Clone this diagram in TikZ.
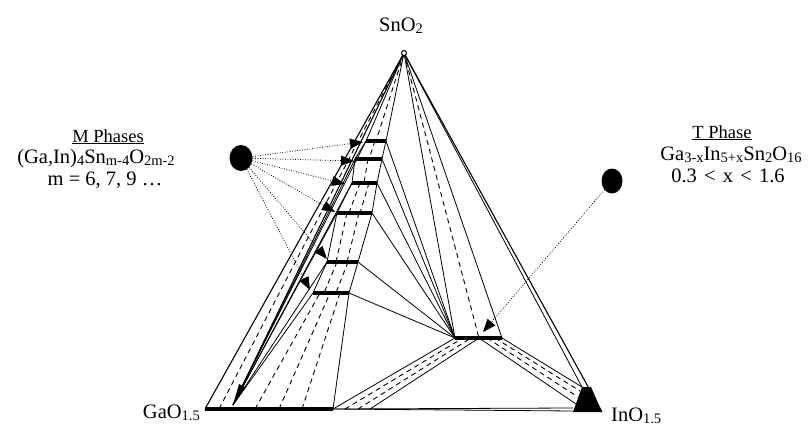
\documentclass[tikz,border=0pt]{standalone}
\usepackage{fontspec}
\setmainfont{Liberation Serif}
\usetikzlibrary{arrows.meta,shapes.geometric}
\newcommand{\sbx}[1]{\raisebox{-0.3ex}{\fontsize{14.5}{14.5}\selectfont #1}}
\begin{document}
\begin{tikzpicture}[x=1pt,y=-1pt,
  edge/.style={line width=1.1pt},
  thinl/.style={line width=0.8pt},
  tie/.style={line width=0.9pt, dash pattern=on 5pt off 4pt},
  barl/.style={line width=4.5pt},
  dotl/.style={line width=0.8pt, dash pattern=on 0.8pt off 1.7pt},
  arr/.style={dotl, -{Triangle[length=13pt,width=10pt]}},
  blob/.style={ellipse, fill=black, inner sep=0pt},
  lbl/.style={font=\fontsize{20.5}{22}\selectfont, inner sep=0pt},
  head/.style={font=\fontsize{18.5}{20}\selectfont, inner sep=0pt}
]
\useasboundingbox (0,0) rectangle (812,426);
% corners and key points
\coordinate (A) at (404,53);
\coordinate (G) at (205,409);
\coordinate (F) at (233,405);
\coordinate (B) at (333,409);
\coordinate (B2) at (370,409);
\coordinate (Gd) at (219,409);
\coordinate (L1) at (366,141); \coordinate (R1) at (386,141);
\coordinate (L2) at (355,159); \coordinate (R2) at (382,159);
\coordinate (L3) at (352,183); \coordinate (R3) at (377,183);
\coordinate (L4) at (337,213); \coordinate (R4) at (372,213);
\coordinate (L5) at (327,262); \coordinate (R5) at (358,262);
\coordinate (L6) at (313,293); \coordinate (R6) at (349,293);
\coordinate (TL) at (455,338); \coordinate (TM) at (479,338); \coordinate (TR) at (502,338);
\coordinate (Itl) at (582,387); \coordinate (Itr) at (591,387);
\coordinate (Ibl) at (573,412); \coordinate (Ibr) at (602,412);
\coordinate (Im) at (576,404);

% outer edges
\draw[edge] (A) -- (G);
\draw[edge] (A) -- (Ibr);
\draw[thinl] (A) -- (Itl);
\draw[thinl] (B) -- (573,408);
\draw[thinl] (B) -- (573,411);

% left region
\draw[edge] (A) -- (F);
\draw[tie] (A) -- (Gd);
\draw[thinl] (A) -- (L1);
\draw[thinl] (A) -- (R1) -- (R2) -- (R3) -- (R4) -- (R5) -- (R6) -- (B);
\draw[thinl] (L1) -- (L2) -- (L3) -- (L4) -- (L5) -- (L6);
\foreach \p in {L1,L2,L3,L4,L5,L6} \draw[thinl] (F) -- (\p);
\fill (233,405) -- (239,384) -- (245,387) -- cycle;

% tie lines between the M phases
\draw[tie] (A) -- (376,141);
\draw[tie] (375,141) -- (369,159);
\draw[tie] (368,159) -- (364,183);
\draw[tie] (360,183) -- (349,213);
\draw[tie] (369,183) -- (360,213);
\draw[tie] (347,213) -- (336,262);
\draw[tie] (359,213) -- (347,262);
\draw[tie] (337,262) -- (324,293);
\draw[tie] (348,262) -- (336,293);
\draw[tie] (255,409) -- (320,293);
\draw[tie] (279,409) -- (330,293);
\draw[tie] (302,409) -- (340,293);

% lines to the T phase
\foreach \p in {R1,R2,R3,R4,R5,R6} \draw[thinl] (\p) -- (TL);
\draw[thinl] (A) -- (TL);
\draw[tie] (A) -- (TM);
\draw[thinl] (A) -- (TR);
\draw[thinl] (B) -- (TL);
\draw[thinl] (B2) -- (TM);
\draw[tie] (345,409) -- (463,338);
\draw[tie] (358,409) -- (471,338);
\draw[thinl] (TR) -- (Itl);
\draw[thinl] (TM) -- (Im);
\draw[tie] (487,338) -- (578,397);
\draw[tie] (495,338) -- (580,391);

% phase bars
\draw[line width=3.5pt] (G) -- (B);
\foreach \a/\b in {L1/R1,L2/R2,L3/R3,L4/R4,L5/R5,L6/R6} \draw[barl] (\a) -- (\b);
\draw[barl] (TL) -- (TR);
\fill (Itl) -- (Itr) -- (Ibr) -- (Ibl) -- cycle;
\draw[fill=white, line width=1pt] (A) circle (2.5);

% annotations
\node[blob, minimum width=23pt, minimum height=26pt] (Mdot) at (241,158) {};
\node[blob, minimum width=21pt, minimum height=25pt] (Tdot) at (612,181) {};
\coordinate (M1) at (363,142);
\coordinate (M2) at (354,161);
\coordinate (M3) at (345,184);
\coordinate (M4) at (335,212);
\coordinate (M5) at (327,259);
\coordinate (M6) at (310,290);
\coordinate (Tt) at (483,332);
\foreach \p in {M1,M2,M3,M4,M5,M6} \draw[arr] (Mdot) -- (\p);
\draw[arr] (Tdot) -- (Tt);

% labels
\node[lbl, anchor=base] (sn) at (401,31) {SnO\sbx{2}};
\node[lbl, anchor=base east] (ga) at (200,418) {GaO\sbx{1.5}};
\node[lbl, anchor=base west] (in) at (611,421) {InO\sbx{1.5}};
\node[head, anchor=base] (m1) at (108,142) {\underline{M Phases}};
\node[lbl, anchor=base] (m2) at (96,163) {(Ga,In)\sbx{4}Sn\sbx{m-4}O\sbx{2m-2}};
\node[lbl, anchor=base] (m3) at (105,185) {m = 6, 7, 9 …};
\node[head, anchor=base] (t1) at (722,138) {\underline{T Phase}};
\node[lbl, anchor=base] (t2) at (731,160) {Ga\sbx{3-x}In\sbx{5+x}Sn\sbx{2}O\sbx{16}};
\node[lbl, anchor=base] (t3) at (728,182) {0.3\hspace{0.35em}<\hspace{0.35em}x\hspace{0.35em}<\hspace{0.35em}1.6};
\end{tikzpicture}
\end{document}
